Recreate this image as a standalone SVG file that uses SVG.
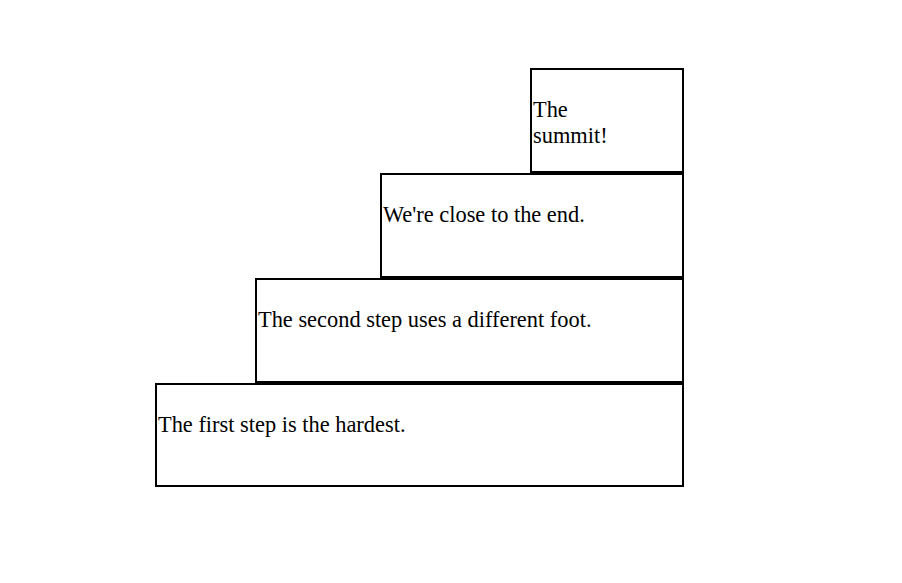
<svg xmlns="http://www.w3.org/2000/svg" width="902" height="583" viewBox="0 0 902 583">
<style>
.step rect{fill:#fff;stroke:#000;stroke-width:2}
.step text{font-family:"Liberation Serif","Times New Roman",serif;font-size:22.4px;fill:#000}
</style>
<rect width="902" height="583" fill="#fff"/>
<g id="step4" class="step">
<rect x="531" y="69" width="152" height="103"/>
<text x="533" y="117">The</text>
<text x="533" y="143">summit!</text>
</g>
<g id="step3" class="step">
<rect x="381" y="174" width="302" height="103"/>
<text x="383" y="222">We're close to the end.</text>
</g>
<g id="step2" class="step">
<rect x="256" y="279" width="427" height="103"/>
<text x="258" y="327">The second step uses a different foot.</text>
</g>
<g id="step1" class="step">
<rect x="156" y="384" width="527" height="102"/>
<text x="158" y="432">The first step is the hardest.</text>
</g>
<g id="connectors"/>
</svg>
